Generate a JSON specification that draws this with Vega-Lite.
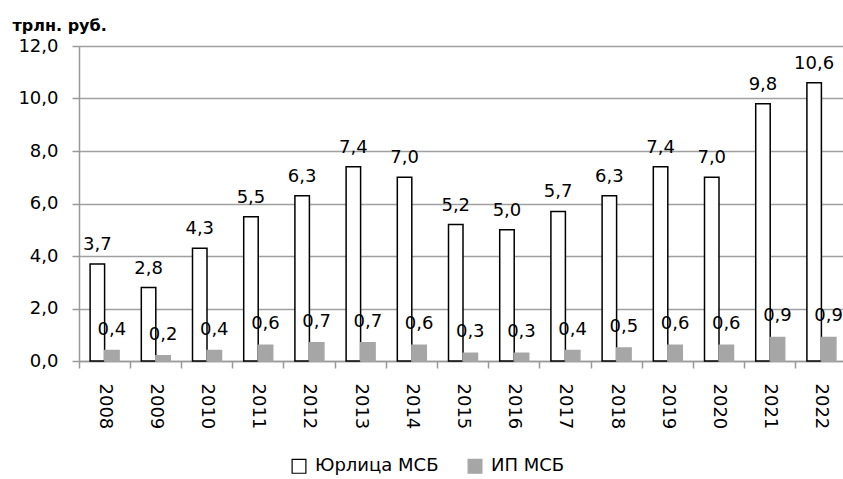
{
  "$schema": "https://vega.github.io/schema/vega-lite/v6.json",
  "autosize": {"type": "none"},
  "padding": {"left": 79, "top": 46, "right": 0, "bottom": 118},
  "width": 768,
  "height": 315,
  "background": "white",
  "data": {
    "values": [
      {"year": "2008", "s": "Юрлица МСБ", "v": 3.7},
      {"year": "2009", "s": "Юрлица МСБ", "v": 2.8},
      {"year": "2010", "s": "Юрлица МСБ", "v": 4.3},
      {"year": "2011", "s": "Юрлица МСБ", "v": 5.5},
      {"year": "2012", "s": "Юрлица МСБ", "v": 6.3},
      {"year": "2013", "s": "Юрлица МСБ", "v": 7.4},
      {"year": "2014", "s": "Юрлица МСБ", "v": 7.0},
      {"year": "2015", "s": "Юрлица МСБ", "v": 5.2},
      {"year": "2016", "s": "Юрлица МСБ", "v": 5.0},
      {"year": "2017", "s": "Юрлица МСБ", "v": 5.7},
      {"year": "2018", "s": "Юрлица МСБ", "v": 6.3},
      {"year": "2019", "s": "Юрлица МСБ", "v": 7.4},
      {"year": "2020", "s": "Юрлица МСБ", "v": 7.0},
      {"year": "2021", "s": "Юрлица МСБ", "v": 9.8},
      {"year": "2022", "s": "Юрлица МСБ", "v": 10.6},
      {"year": "2008", "s": "ИП МСБ", "v": 0.4},
      {"year": "2009", "s": "ИП МСБ", "v": 0.2},
      {"year": "2010", "s": "ИП МСБ", "v": 0.4},
      {"year": "2011", "s": "ИП МСБ", "v": 0.6},
      {"year": "2012", "s": "ИП МСБ", "v": 0.7},
      {"year": "2013", "s": "ИП МСБ", "v": 0.7},
      {"year": "2014", "s": "ИП МСБ", "v": 0.6},
      {"year": "2015", "s": "ИП МСБ", "v": 0.3},
      {"year": "2016", "s": "ИП МСБ", "v": 0.3},
      {"year": "2017", "s": "ИП МСБ", "v": 0.4},
      {"year": "2018", "s": "ИП МСБ", "v": 0.5},
      {"year": "2019", "s": "ИП МСБ", "v": 0.6},
      {"year": "2020", "s": "ИП МСБ", "v": 0.6},
      {"year": "2021", "s": "ИП МСБ", "v": 0.9},
      {"year": "2022", "s": "ИП МСБ", "v": 0.9}
    ]
  },
  "encoding": {
    "x": {
      "field": "year",
      "type": "nominal",
      "scale": {"paddingInner": 0, "paddingOuter": 0},
      "axis": {
        "title": null,
        "bandPosition": 0,
        "labelAngle": 90,
        "labelAlign": "left",
        "labelBaseline": "middle",
        "labelFont": "DejaVu Sans",
        "labelFontSize": 18,
        "labelColor": "black",
        "labelPadding": 15,
        "tickSize": 7,
        "tickColor": "#999999",
        "tickWidth": 1.5,
        "domainColor": "#999999",
        "domainWidth": 1.5,
        "grid": false
      }
    },
    "xOffset": {
      "field": "s",
      "type": "nominal",
      "sort": ["Юрлица МСБ", "ИП МСБ"],
      "scale": {"paddingInner": 0, "paddingOuter": 0.766}
    },
    "y": {
      "field": "v",
      "type": "quantitative",
      "scale": {"domain": [0, 12], "nice": false},
      "axis": {
        "title": "трлн. руб.",
        "titleAngle": 0,
        "titleX": -67,
        "titleY": -16,
        "titleAlign": "left",
        "titleBaseline": "alphabetic",
        "titleFont": "DejaVu Sans",
        "titleFontSize": 16,
        "titleFontWeight": "bold",
        "titleColor": "black",
        "values": [0, 2, 4, 6, 8, 10, 12],
        "format": ".1f",
        "labelFont": "DejaVu Sans",
        "labelFontSize": 18,
        "labelColor": "black",
        "labelPadding": 14,
        "tickSize": 7,
        "tickColor": "#999999",
        "tickWidth": 1.5,
        "domainColor": "#999999",
        "domainWidth": 1.5,
        "grid": true,
        "gridColor": "#a0a0a0",
        "gridWidth": 1.5
      }
    }
  },
  "layer": [
    {
      "mark": {"type": "bar", "strokeWidth": 1.5},
      "encoding": {
        "fill": {
          "field": "s",
          "type": "nominal",
          "sort": ["Юрлица МСБ", "ИП МСБ"],
          "scale": {"domain": ["Юрлица МСБ", "ИП МСБ"], "range": ["white", "#a6a6a6"]},
          "legend": {
            "title": null,
            "orient": "none",
            "direction": "horizontal",
            "legendX": 211,
            "legendY": 411,
            "symbolType": "square",
            "symbolSize": 190,
            "symbolStrokeWidth": 1.2,
            "labelFont": "DejaVu Sans",
            "labelFontSize": 18,
            "labelColor": "black",
            "labelOffset": 7,
            "columnPadding": 26
          }
        },
        "stroke": {
          "field": "s",
          "type": "nominal",
          "sort": ["Юрлица МСБ", "ИП МСБ"],
          "scale": {"domain": ["Юрлица МСБ", "ИП МСБ"], "range": ["black", "#a6a6a6"]},
          "legend": {
            "title": null,
            "orient": "none",
            "direction": "horizontal",
            "legendX": 211,
            "legendY": 411,
            "symbolType": "square",
            "symbolSize": 190,
            "symbolStrokeWidth": 1.2,
            "labelFont": "DejaVu Sans",
            "labelFontSize": 18,
            "labelColor": "black",
            "labelOffset": 7,
            "columnPadding": 26
          }
        }
      }
    },
    {
      "transform": [{"filter": "datum.s === 'Юрлица МСБ'"}],
      "mark": {"type": "text", "baseline": "alphabetic", "dy": -14, "font": "DejaVu Sans", "fontSize": 18, "color": "black"},
      "encoding": {
        "text": {"field": "v", "type": "quantitative", "format": ".1f"}
      }
    },
    {
      "transform": [{"filter": "datum.s === 'ИП МСБ'"}],
      "mark": {"type": "text", "baseline": "alphabetic", "dy": -16, "font": "DejaVu Sans", "fontSize": 18, "color": "black"},
      "encoding": {
        "text": {"field": "v", "type": "quantitative", "format": ".1f"}
      }
    }
  ],
  "config": {
    "locale": {"number": {"decimal": ",", "thousands": " ", "grouping": [3], "currency": ["", " ₽"]}},
    "view": {"stroke": null}
  }
}
